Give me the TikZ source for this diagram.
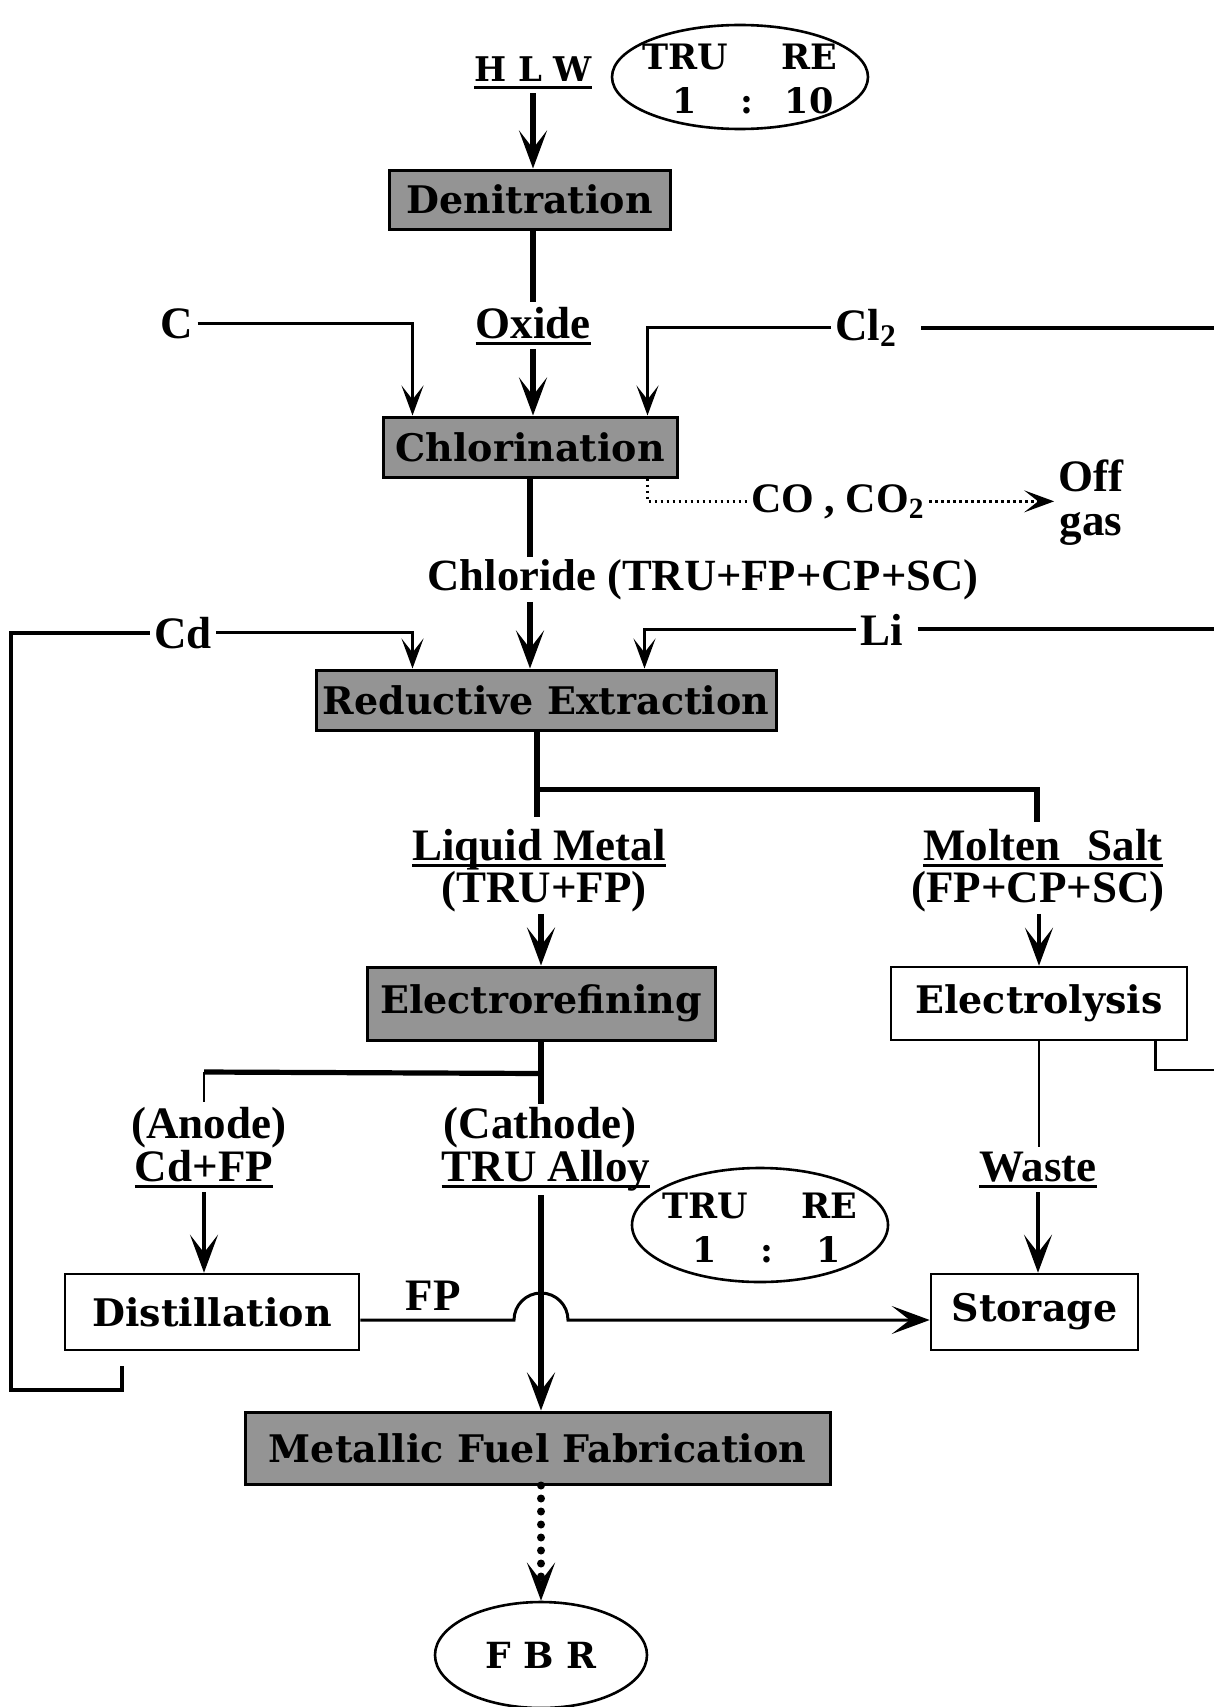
\documentclass[tikz,border=0pt]{standalone}
\usepackage{graphicx}
\usepackage{fontspec}
\newfontfamily\tms{Liberation Serif}
\newfontfamily\dvs{DejaVu Serif}
\usetikzlibrary{arrows.meta,shapes.geometric,calc}
\newcommand{\ulx}[1]{\leavevmode\setbox0\hbox{#1}\rlap{\rule[-3.5pt]{\wd0}{1.4pt}}\box0}
\newcommand{\fs}[1]{\fontsize{#1}{22}\selectfont\dvs\bfseries}
\newcommand{\tf}[1]{\fontsize{#1}{22}\selectfont\tms\bfseries}
\newcommand{\ratio}[3]{\makebox[50pt]{#1}\makebox[12pt]{#2}\makebox[50pt]{#3}}
\begin{document}
\begin{tikzpicture}[x=0.5pt,y=-0.5pt,
  every node/.style={font=\fs{19}},
  lbl/.style={inner sep=2pt, anchor=base, font=\tf{22.5}},
  shaded/.style={draw, line width=1.5pt, fill=black!42, inner sep=0pt},
  plainbox/.style={draw, line width=1.3pt, fill=white, inner sep=0pt},
  oval/.style={draw, ellipse, line width=1.3pt, inner sep=0pt},
  flow/.style={line width=2.6pt},
  midline/.style={line width=1.8pt},
  feed/.style={line width=1.3pt},
  heavy/.style={line width=2pt},
  dotline/.style={line width=1.3pt, dash pattern=on 1.3pt off 1.7pt},
  tipbig/.style={-{Stealth[length=19pt,width=14pt,inset=9pt]}},
  tipsmall/.style={-{Stealth[length=15pt,width=11pt,inset=7pt]}},
]
\useasboundingbox (0,0) rectangle (1214,1707);
\fill[white] (0,0) rectangle (1214,1707);

% ---- nodes ----
\node[lbl, font=\fs{17}] (hlw) at (533,82) {\ulx{H L W}};
\node[oval, minimum width=128pt, minimum height=52pt] (r1) at (740,77) {};
\node[align=center, inner sep=0pt, font=\fs{17.5}] (r1t) at (747,79)
  {\ratio{TRU}{}{RE}\\\ratio{1}{:}{10}};
\node[shaded, minimum width=140.5pt, minimum height=29.5pt] (den) at (529.5,199.5) {Denitration};
\node[lbl] (oxide) at (533,338) {\ulx{Oxide}};
\node[lbl] (c) at (177,338) {C};
\node[lbl] (cl) at (866,340) {Cl\textsubscript{2}};
\node[shaded, minimum width=147pt, minimum height=30pt] (chl) at (530,447) {Chlorination};
\node[lbl, font=\tf{21}] (co) at (838,512) {CO , CO\textsubscript{2}};
\node[inner sep=2pt, align=center, font=\tf{22.5}] (off) at (1091,503) {Off\\gas};
\node[lbl, inner sep=1pt, font=\tf{22.3}] (chlor) at (703,590) {Chloride (TRU+FP+CP+SC)};
\node[lbl] (cd) at (183,648) {Cd};
\node[lbl] (li) at (882,645) {Li};
\node[shaded, minimum width=230pt, minimum height=30pt] (red) at (546,700) {Reductive Extraction};
\node[lbl] (lm) at (539,860) {\ulx{Liquid Metal}};
\node[lbl, inner sep=1pt] (lm2) at (544,902) {(TRU+FP)};
\node[lbl] (ms) at (1043,860) {\ulx{Molten\hspace{0.6em}Salt}};
\node[lbl, inner sep=1pt] (ms2) at (1038,902) {(FP+CP+SC)};
\node[shaded, minimum width=174pt, minimum height=36.5pt] (ele) at (541,1003.5) {Electrorefining};
\node[plainbox, minimum width=148pt, minimum height=36.5pt] (lys) at (1039,1003.5) {Electrolysis};
\node[lbl] (anode) at (209,1138) {(Anode)};
\node[lbl] (cdfp) at (204,1181) {\ulx{Cd+FP}};
\node[lbl] (cath) at (540,1138) {(Cathode)};
\node[lbl] (tru) at (546,1181) {\ulx{TRU Alloy}};
\node[lbl] (waste) at (1038,1181) {\ulx{Waste}};
\node[oval, minimum width=128pt, minimum height=57pt] (r2) at (760,1225) {};
\node[align=center, inner sep=0pt, font=\fs{17.5}] (r2t) at (767,1228)
  {\ratio{TRU}{}{RE}\\\ratio{1}{:}{1}};
\node[plainbox, minimum width=147pt, minimum height=38pt] (dis) at (212,1312) {Distillation};
\node[plainbox, minimum width=103.5pt, minimum height=38pt] (sto) at (1034.5,1312) {Storage};
\node[lbl] (fp) at (433,1310) {FP};
\node[shaded, minimum width=292.5pt, minimum height=36pt] (mff) at (537.5,1448) {Metallic Fuel Fabrication};
\node[oval, minimum width=106pt, minimum height=53pt, font=\fs{18}] (fbr) at (541,1655) {F B R};

% ---- free-end coordinates ----
\coordinate (clR) at (1214,327);
\coordinate (liR) at (1214,645);
\coordinate (loopA) at (11,1390);
\coordinate (loopB) at (122,1366);
\coordinate (rb) at ($(red.south)+(-9,0)$);
\coordinate (tjR) at (1037,822);
\coordinate (an) at (204,1072);
\coordinate (lysR) at (1214,1070);
\coordinate (hop) at (514,1320);

% ---- connectors ----
\draw[flow,tipbig] (hlw.south) -- (hlw.south |- den.north);
\draw[flow] (oxide.north |- den.south) -- (oxide.north);
\draw[flow,tipbig] (oxide.south) -- (oxide.south |- chl.north);
\draw[feed,tipsmall] (c.east) -| ($(chl.north west)+(31,0)$);
\draw[feed,tipsmall] (cl.west) -| ($(chl.north east)+(-31,0)$);
\draw[heavy] ($(cl.east)+(20,0)$) -- (cl.east -| clR);
\draw[dotline] ($(chl.south east)+(-31,0)$) |- (co.west);
\draw[dotline,tipsmall] (co.east) -- (co.east -| off.west);
\draw[flow] (chl.south) -- (chl.south |- chlor.north);
\draw[flow,tipbig] (chl.south |- chlor.south) -- (chl.south |- red.north);
\draw[feed,tipsmall] (cd.east) -| ($(red.north west)+(98,0)$);
\draw[feed,tipsmall] (li.west) -| ($(red.north west)+(330,0)$);
\draw[heavy] ($(li.east)+(10,0)$) -- (li.east -| liR);
\draw[heavy] (cd.west) -| (loopA) -| (loopB);
\draw[flow] (rb) -- ($(rb)+(0,85)$);
\draw[flow] ($(rb)+(0,58)$) -| (tjR);
\draw[flow,tipbig] (lm2.south -| ele.north) -- (ele.north);
\draw[midline,tipbig] (ms2.south -| lys.north) -- (lys.north);
\draw[flow] (ele.south) -- ($(ele.south)+(0,62)$);
\draw[flow] ($(ele.south)+(0,32)$) -- (an);
\draw[feed] (an) -- ($(an)+(0,30)$);
\draw[midline,tipbig] (cdfp.south) -- (cdfp.south |- dis.north);
\draw[flow,tipbig] (ele.south |- tru.south) -- (ele.south |- mff.north);
\draw[feed] (lys.south) -- (lys.south |- waste.north);
\draw[midline,tipbig] (waste.south) -- (waste.south |- sto.north);
\draw[feed] ($(lys.south east)+(-33,0)$) |- (lysR);
\draw[line width=1.5pt,tipbig] ($(dis.east)+(0,8)$) -- (hop) arc[start angle=180,end angle=0,radius=13.5pt] -- (sto.west |- hop);
\draw[line width=4pt, dash pattern=on 0pt off 6.5pt, line cap=round, -{Stealth[length=19pt,width=14pt,inset=9pt]}] (ele.south |- mff.south) -- (fbr.north);
\end{tikzpicture}
\end{document}
